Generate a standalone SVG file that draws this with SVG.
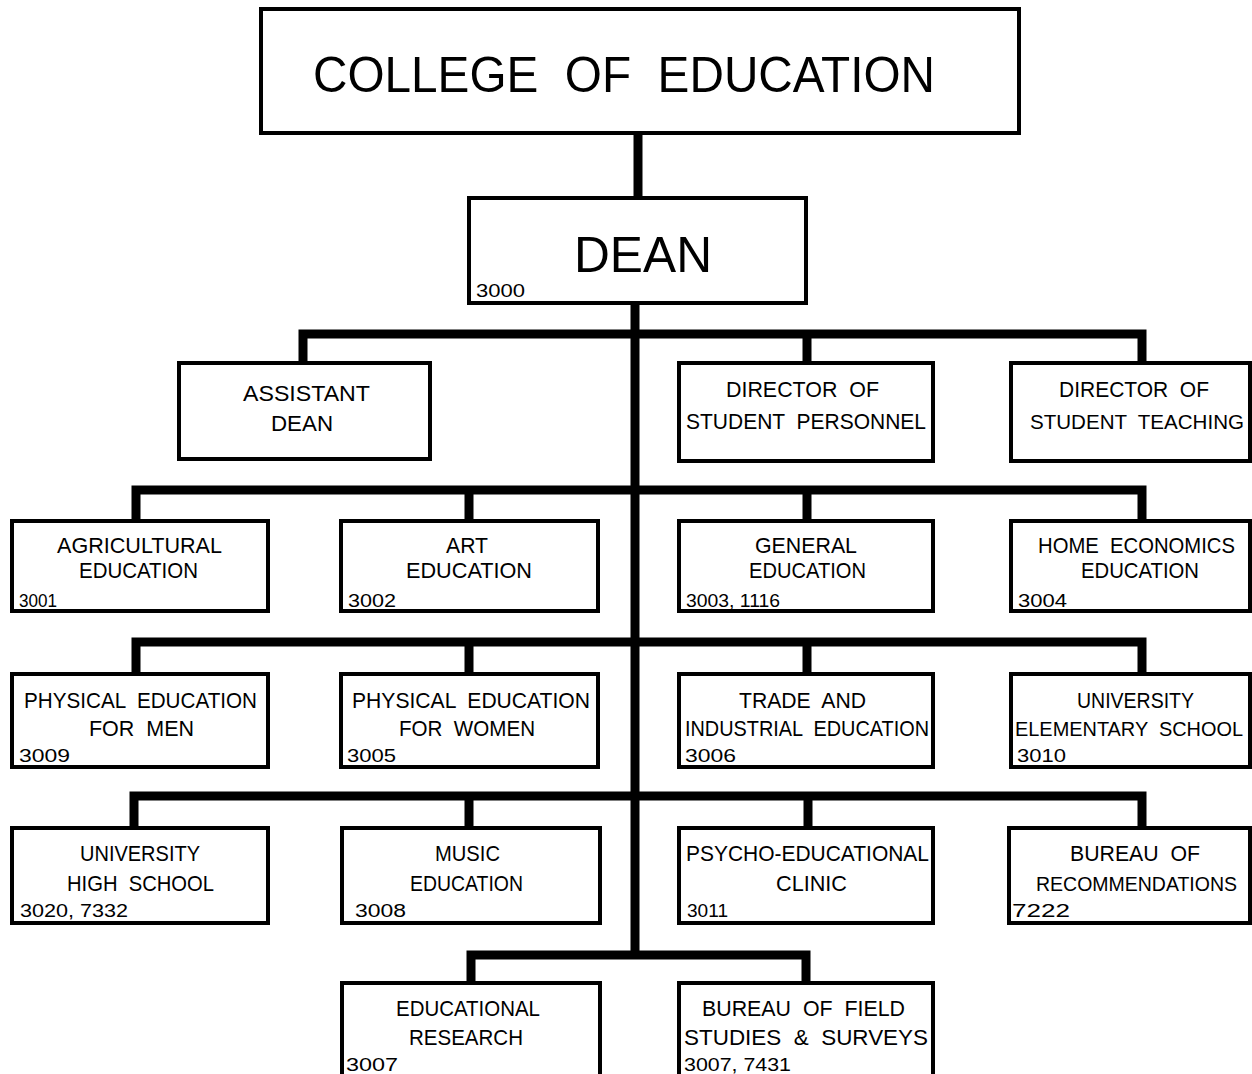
<svg xmlns="http://www.w3.org/2000/svg" width="1252" height="1074" viewBox="0 0 1252 1074" xml:space="preserve">
<style>
.box{fill:#fff;stroke:#000;stroke-width:4}
.conn{fill:none;stroke:#000;stroke-width:9;stroke-linejoin:miter}
text{font-family:"Liberation Sans",Arial,sans-serif;fill:#000;white-space:pre}
.t{font-size:22px}
.n{font-size:18px}
.big{font-size:50px}
</style>
<rect width="1252" height="1074" fill="#fff"/>
<g id="connectors">
<path class="conn" d="M638,133 V199"/>
<path class="conn" d="M635,301 V958"/>
<path class="conn" d="M303,364 V334 H1142 V364 M807,334 V364"/>
<path class="conn" d="M136,522 V490 H1142 V522 M469,490 V522 M807,490 V522"/>
<path class="conn" d="M136,675 V642 H1142 V675 M469,642 V675 M807,642 V675"/>
<path class="conn" d="M134,829 V796 H1142 V829 M469,796 V829 M808,796 V829"/>
<path class="conn" d="M471,984 V955 H806 V984"/>
</g>
<g id="college"><rect class="box" x="261" y="9" width="758" height="124"/>
<text class="big" x="313" y="92" textLength="622" lengthAdjust="spacingAndGlyphs">COLLEGE  OF  EDUCATION</text></g>
<g id="dean"><rect class="box" x="469" y="198" width="337" height="105"/>
<text class="big" x="574" y="272" textLength="138" lengthAdjust="spacingAndGlyphs">DEAN</text>
<text class="n" x="476" y="297" textLength="49" lengthAdjust="spacingAndGlyphs">3000</text></g>
<g id="assistant-dean"><rect class="box" x="179" y="363" width="251" height="96"/>
<text class="t" x="243" y="401" textLength="127" lengthAdjust="spacingAndGlyphs">ASSISTANT</text>
<text class="t" x="271" y="431" textLength="62" lengthAdjust="spacingAndGlyphs">DEAN</text></g>
<g id="dir-student-personnel"><rect class="box" x="679" y="363" width="254" height="98"/>
<text class="t" x="726" y="397" textLength="153" lengthAdjust="spacingAndGlyphs">DIRECTOR  OF</text>
<text class="t" x="686" y="429" textLength="240" lengthAdjust="spacingAndGlyphs">STUDENT  PERSONNEL</text></g>
<g id="dir-student-teaching"><rect class="box" x="1011" y="363" width="239" height="98"/>
<text class="t" x="1059" y="397" textLength="150" lengthAdjust="spacingAndGlyphs">DIRECTOR  OF</text>
<text class="t" x="1030" y="429" style="font-size:20.5px" textLength="214" lengthAdjust="spacingAndGlyphs">STUDENT  TEACHING</text></g>
<g id="agricultural"><rect class="box" x="12" y="521" width="256" height="90"/>
<text class="t" x="57" y="553" textLength="165" lengthAdjust="spacingAndGlyphs">AGRICULTURAL</text>
<text class="t" x="79" y="578" textLength="119" lengthAdjust="spacingAndGlyphs">EDUCATION</text>
<text class="n" x="19" y="607" textLength="38" lengthAdjust="spacingAndGlyphs">3001</text></g>
<g id="art"><rect class="box" x="341" y="521" width="257" height="90"/>
<text class="t" x="446" y="553" textLength="42" lengthAdjust="spacingAndGlyphs">ART</text>
<text class="t" x="406" y="578" textLength="126" lengthAdjust="spacingAndGlyphs">EDUCATION</text>
<text class="n" x="348" y="607" textLength="48" lengthAdjust="spacingAndGlyphs">3002</text></g>
<g id="general"><rect class="box" x="679" y="521" width="254" height="90"/>
<text class="t" x="755" y="553" textLength="102" lengthAdjust="spacingAndGlyphs">GENERAL</text>
<text class="t" x="749" y="578" textLength="117" lengthAdjust="spacingAndGlyphs">EDUCATION</text>
<text class="n" x="686" y="607" textLength="94" lengthAdjust="spacingAndGlyphs">3003, 1116</text></g>
<g id="home-economics"><rect class="box" x="1011" y="521" width="239" height="90"/>
<text class="t" x="1038" y="553" textLength="197" lengthAdjust="spacingAndGlyphs">HOME  ECONOMICS</text>
<text class="t" x="1081" y="578" textLength="118" lengthAdjust="spacingAndGlyphs">EDUCATION</text>
<text class="n" x="1018" y="607" textLength="49" lengthAdjust="spacingAndGlyphs">3004</text></g>
<g id="pe-men"><rect class="box" x="12" y="674" width="256" height="93"/>
<text class="t" x="24" y="708" textLength="233" lengthAdjust="spacingAndGlyphs">PHYSICAL  EDUCATION</text>
<text class="t" x="89" y="736" textLength="105" lengthAdjust="spacingAndGlyphs">FOR  MEN</text>
<text class="n" x="19" y="762" textLength="51" lengthAdjust="spacingAndGlyphs">3009</text></g>
<g id="pe-women"><rect class="box" x="341" y="674" width="257" height="93"/>
<text class="t" x="352" y="708" textLength="238" lengthAdjust="spacingAndGlyphs">PHYSICAL  EDUCATION</text>
<text class="t" x="399" y="736" textLength="136" lengthAdjust="spacingAndGlyphs">FOR  WOMEN</text>
<text class="n" x="347" y="762" textLength="49" lengthAdjust="spacingAndGlyphs">3005</text></g>
<g id="trade-industrial"><rect class="box" x="679" y="674" width="254" height="93"/>
<text class="t" x="739" y="708" textLength="127" lengthAdjust="spacingAndGlyphs">TRADE  AND</text>
<text class="t" x="685" y="736" textLength="244" lengthAdjust="spacingAndGlyphs">INDUSTRIAL  EDUCATION</text>
<text class="n" x="685" y="762" textLength="51" lengthAdjust="spacingAndGlyphs">3006</text></g>
<g id="univ-elementary"><rect class="box" x="1011" y="674" width="239" height="93"/>
<text class="t" x="1077" y="708" textLength="117" lengthAdjust="spacingAndGlyphs">UNIVERSITY</text>
<text class="t" x="1015" y="736" style="font-size:19.6px" textLength="228" lengthAdjust="spacingAndGlyphs">ELEMENTARY  SCHOOL</text>
<text class="n" x="1017" y="762" textLength="49" lengthAdjust="spacingAndGlyphs">3010</text></g>
<g id="univ-high"><rect class="box" x="12" y="828" width="256" height="95"/>
<text class="t" x="80" y="861" textLength="120" lengthAdjust="spacingAndGlyphs">UNIVERSITY</text>
<text class="t" x="67" y="891" textLength="147" lengthAdjust="spacingAndGlyphs">HIGH  SCHOOL</text>
<text class="n" x="20" y="917" textLength="108" lengthAdjust="spacingAndGlyphs">3020, 7332</text></g>
<g id="music"><rect class="box" x="342" y="828" width="258" height="95"/>
<text class="t" x="435" y="861" textLength="65" lengthAdjust="spacingAndGlyphs">MUSIC</text>
<text class="t" x="410" y="891" textLength="113" lengthAdjust="spacingAndGlyphs">EDUCATION</text>
<text class="n" x="355" y="917" textLength="51" lengthAdjust="spacingAndGlyphs">3008</text></g>
<g id="psycho-educational"><rect class="box" x="679" y="828" width="254" height="95"/>
<text class="t" x="686" y="861" textLength="243" lengthAdjust="spacingAndGlyphs">PSYCHO-EDUCATIONAL</text>
<text class="t" x="776" y="891" textLength="71" lengthAdjust="spacingAndGlyphs">CLINIC</text>
<text class="n" x="687" y="917" textLength="41" lengthAdjust="spacingAndGlyphs">3011</text></g>
<g id="bureau-recommendations"><rect class="box" x="1009" y="828" width="241" height="95"/>
<text class="t" x="1070" y="861" textLength="130" lengthAdjust="spacingAndGlyphs">BUREAU  OF</text>
<text class="t" x="1036" y="891" style="font-size:19.3px" textLength="201" lengthAdjust="spacingAndGlyphs">RECOMMENDATIONS</text>
<text class="n" x="1012" y="917" textLength="58" lengthAdjust="spacingAndGlyphs">7222</text></g>
<g id="educational-research"><rect class="box" x="342" y="983" width="258" height="100"/>
<text class="t" x="396" y="1016" textLength="144" lengthAdjust="spacingAndGlyphs">EDUCATIONAL</text>
<text class="t" x="409" y="1045" textLength="114" lengthAdjust="spacingAndGlyphs">RESEARCH</text>
<text class="n" x="346" y="1071" textLength="52" lengthAdjust="spacingAndGlyphs">3007</text></g>
<g id="bureau-field-studies"><rect class="box" x="679" y="983" width="254" height="100"/>
<text class="t" x="702" y="1016" textLength="203" lengthAdjust="spacingAndGlyphs">BUREAU  OF  FIELD</text>
<text class="t" x="684" y="1045" textLength="244" lengthAdjust="spacingAndGlyphs">STUDIES  &amp;  SURVEYS</text>
<text class="n" x="684" y="1071" textLength="107" lengthAdjust="spacingAndGlyphs">3007, 7431</text></g>
</svg>
